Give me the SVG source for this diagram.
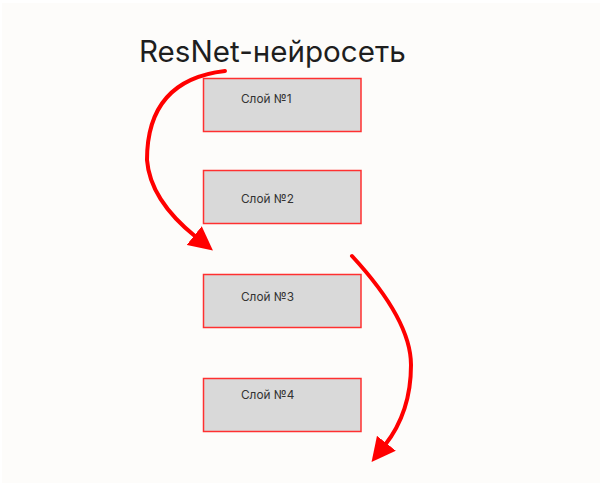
<svg xmlns="http://www.w3.org/2000/svg" width="600" height="486" viewBox="0 0 600 486">
  <style>
    .box { fill: #d9d9d9; stroke: #ff3030; stroke-width: 1.5; }
    .lbl { font-family: Inter, "Liberation Sans", sans-serif; font-size: 11.8px; fill: #333333; }
    .title { font-family: Inter, "Liberation Sans", sans-serif; font-size: 29.6px; fill: #1e1e1e; }
    .conn { fill: none; stroke: #ff0000; stroke-width: 4; stroke-linecap: round; }
  </style>
  <defs>
    <marker id="ah" markerUnits="userSpaceOnUse" markerWidth="24" markerHeight="24" viewBox="0 0 21 21" refX="2" refY="10.5" orient="auto">
      <path d="M0,0 L21,10.5 L0,21 Z" fill="#ff0000"/>
    </marker>
  </defs>
  <rect x="2" y="3" width="598" height="480" fill="#fdfcfa"/>
  <text class="title" x="139" y="62">ResNet-нейросеть</text>
  <g id="layer1">
    <rect class="box" x="203.5" y="78.5" width="157.5" height="53"/>
    <text class="lbl" x="241" y="103">Слой №1</text>
  </g>
  <g id="layer2">
    <rect class="box" x="203.5" y="170.5" width="157.5" height="53"/>
    <text class="lbl" x="241" y="203">Слой №2</text>
  </g>
  <g id="layer3">
    <rect class="box" x="203.5" y="274.5" width="157.5" height="53"/>
    <text class="lbl" x="241" y="301">Слой №3</text>
  </g>
  <g id="layer4">
    <rect class="box" x="203.5" y="378.5" width="157.5" height="53"/>
    <text class="lbl" x="241" y="399">Слой №4</text>
  </g>
  <g id="connectors">
    <path class="conn" d="M225,71 Q147,80 147,160 Q150,200 196,237" marker-end="url(#ah)"/>
    <path class="conn" d="M352,256 Q411,320 411,365 Q411,412 385,445" marker-end="url(#ah)"/>
  </g>
</svg>
